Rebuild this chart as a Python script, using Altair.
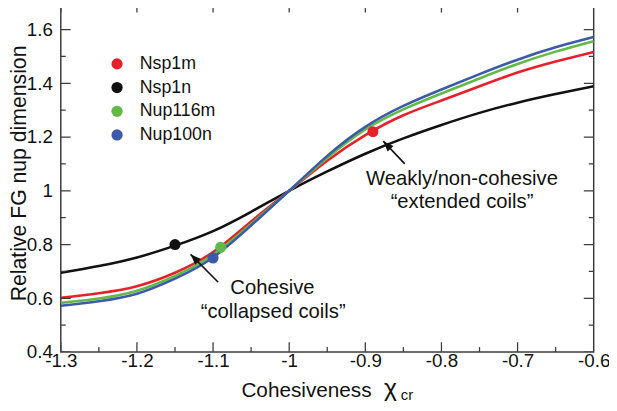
import math
import altair as alt
import pandas as pd

# ---------------- data ----------------
x_grid = [-1.3, -1.25, -1.2, -1.15, -1.1, -1.05, -1.0, -0.95, -0.9, -0.85, -0.8, -0.75, -0.7, -0.65, -0.6]
nsp1m = [0.602, 0.619, 0.645, 0.695, 0.772, 0.886, 1.0, 1.112, 1.207, 1.281, 1.336, 1.389, 1.440, 1.481, 1.517]
nsp1n = [0.695, 0.720, 0.752, 0.796, 0.850, 0.922, 1.0, 1.072, 1.138, 1.195, 1.245, 1.290, 1.328, 1.360, 1.389]
nup116m = [0.583, 0.599, 0.628, 0.683, 0.762, 0.877, 1.0, 1.122, 1.228, 1.303, 1.362, 1.418, 1.472, 1.518, 1.557]
nup100n = [0.572, 0.589, 0.617, 0.673, 0.752, 0.871, 1.0, 1.130, 1.238, 1.316, 1.377, 1.434, 1.488, 1.534, 1.572]

series_names = ["Nsp1m", "Nsp1n", "Nup116m", "Nup100n"]
series_colors = ["#e8202a", "#111111", "#62b946", "#3b5ba8"]

dot_x = [-0.89, -1.15, -1.09, -1.10]
dot_y = [1.22, 0.80, 0.79, 0.75]

x_major = [-1.3, -1.2, -1.1, -1.0, -0.9, -0.8, -0.7, -0.6]
x_minor = [-1.25, -1.15, -1.05, -0.95, -0.85, -0.75, -0.65]
y_major = [0.4, 0.6, 0.8, 1.0, 1.2, 1.4, 1.6]
y_minor = [0.5, 0.7, 0.9, 1.1, 1.3, 1.5]

ann_text = ["Weakly/non-cohesive", "\u201cextended coils\u201d", "Cohesive", "\u201ccollapsed coils\u201d"]
ann_x = [-0.773, -0.773, -1.022, -1.021]
ann_y = [1.0206, 0.9343, 0.615, 0.527]

arrow_tail_x = [-1.0932, -0.8482]
arrow_tail_y = [0.6596, 1.1003]
arrow_head_x = [-1.1295, -0.8764]
arrow_head_y = [0.7635, 1.1848]

# symbol part of the x-axis title: chi with subscript "cr"
sym_text = ["\u03c7", "cr"]
sym_x = [-0.8754, -0.8534]
sym_y = [0.2347, 0.222]
sym_size = [25, 15]

# ---------------- layout ----------------
XMIN, XMAX = -1.3, -0.6
YMIN, YMAX = 0.4, 1.7
W, H = 540, 354
FONT = "Liberation Sans"
INK = "#111111"
FRAME = "#3d3d3d"
PXX = W / (XMAX - XMIN)
PXY = H / (YMAX - YMIN)

# ---------------- tables ----------------
series_vals = {"Nsp1m": nsp1m, "Nsp1n": nsp1n, "Nup116m": nup116m, "Nup100n": nup100n}
series_color = dict(zip(series_names, series_colors))
draw_order = ["Nsp1n", "Nsp1m", "Nup116m", "Nup100n"]

dots = pd.DataFrame({"series": series_names, "x": dot_x, "y": dot_y})

def edge_ticks(vals, edges):
    return pd.DataFrame([{"v": v, "e": e} for v in vals for e in edges])

xt_major = edge_ticks(x_major, (YMIN, YMAX))
xt_minor = edge_ticks(x_minor, (YMIN, YMAX))
yt_major = edge_ticks(y_major, (XMIN, XMAX))
yt_minor = edge_ticks(y_minor, (XMIN, XMAX))

ann = pd.DataFrame({"t": ann_text, "x": ann_x, "y": ann_y})
arrows = pd.DataFrame({"x": arrow_tail_x, "y": arrow_tail_y, "x2": arrow_head_x, "y2": arrow_head_y})
arrows["angle"] = [
    math.degrees(math.atan2(-(tx - hx) * PXX, -(ty - hy) * PXY)) % 360
    for tx, ty, hx, hy in zip(arrow_tail_x, arrow_tail_y, arrow_head_x, arrow_head_y)
]
sym = pd.DataFrame({"t": sym_text, "x": sym_x, "y": sym_y, "s": sym_size})

# ---------------- scales / axes ----------------
xs = alt.Scale(domain=[XMIN, XMAX], nice=False, zero=False)
ys = alt.Scale(domain=[YMIN, YMAX], nice=False, zero=False)
cs = alt.Scale(domain=series_names, range=series_colors)

x_axis = alt.Axis(
    values=x_major, labelExpr="datum.value + ''", ticks=False, domain=False, grid=False,
    labelFontSize=19, labelFont=FONT, labelColor=INK, labelPadding=0,
    labelFlush=False, labelOverlap=False, labelBound=False,
    title="Cohesiveness", titleFontSize=21, titleFont=FONT, titleFontWeight="normal",
    titleColor=INK, titleX=182.5, titleY=45, titleAlign="left", titleBaseline="alphabetic",
)
y_axis = alt.Axis(
    values=y_major, labelExpr="datum.value + ''", ticks=False, domain=False, grid=False,
    labelFontSize=19, labelFont=FONT, labelColor=INK, labelPadding=8.5,
    labelOverlap=False, labelBound=False, labelFlush=False,
    title="Relative FG nup dimension", titleFontSize=21.5, titleFont=FONT, titleFontWeight="normal",
    titleColor=INK, titleX=-35.5, titleY=172.5, titleAlign="center", titleBaseline="alphabetic",
)

def X(f="x"):
    return alt.X(f"{f}:Q", scale=xs, axis=x_axis)

def Y(f="y"):
    return alt.Y(f"{f}:Q", scale=ys, axis=y_axis)

line_layers = []
for s in draw_order:
    df = pd.DataFrame({"x": x_grid, "y": series_vals[s]})
    line_layers.append(
        alt.Chart(df).mark_line(strokeWidth=2.6, interpolate="natural", clip=True, color=series_color[s])
        .encode(x=X(), y=Y())
    )

points = alt.Chart(dots).mark_circle(size=125, opacity=1).encode(
    x=X(), y=Y(),
    color=alt.Color(
        "series:N", scale=cs,
        legend=alt.Legend(
            title=None, orient="none", legendX=48, legendY=53, symbolType="circle",
            symbolSize=130, symbolStrokeWidth=0, labelFontSize=18, labelFont=FONT,
            labelColor=INK, labelOffset=14, rowPadding=6, padding=0,
        ),
    ),
)

def tick_layer(df, orient, size):
    if orient == "vertical":
        enc = dict(x=X("v"), y=Y("e"))
    else:
        enc = dict(x=X("e"), y=Y("v"))
    return alt.Chart(df).mark_tick(orient=orient, size=size, thickness=1.3, color=FRAME, clip=True, opacity=1).encode(**enc)

ticks = [
    tick_layer(xt_major, "vertical", 20),
    tick_layer(xt_minor, "vertical", 10),
    tick_layer(yt_major, "horizontal", 20),
    tick_layer(yt_minor, "horizontal", 10),
]

labels = alt.Chart(ann).mark_text(
    align="center", baseline="alphabetic", fontSize=20.5, font=FONT, color=INK
).encode(x=X(), y=Y(), text="t:N")

shafts = alt.Chart(arrows).mark_rule(strokeWidth=1.6, color=INK).encode(
    x=X(), y=Y(), x2="x2:Q", y2="y2:Q"
)
heads = alt.Chart(arrows).mark_point(
    shape="M0,0L-0.38,1L0.38,1Z", filled=True, size=460, color=INK, opacity=1, strokeWidth=0
).encode(x=X("x2"), y=Y("y2"), angle=alt.Angle("angle:Q", scale=None))

symbol = alt.Chart(sym).mark_text(
    align="left", baseline="alphabetic", font=FONT, color=INK
).encode(x=X(), y=Y(), text="t:N", size=alt.Size("s:Q", scale=None, legend=None))

chart = alt.layer(
    *line_layers, *ticks, shafts, heads, labels, points, symbol
).properties(
    width=W, height=H,
    padding={"left": 53.5, "top": -8, "right": 15.5, "bottom": 49},
    autosize=alt.AutoSizeParams(type="none"),
).configure_view(stroke=FRAME, strokeWidth=1.5)

chart.save("out.html", embed_options={"renderer": "svg", "actions": False})
